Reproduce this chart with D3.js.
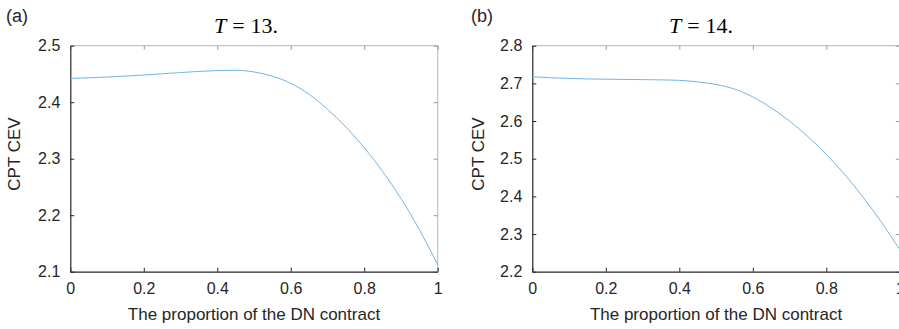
<!DOCTYPE html>
<html>
<head>
<meta charset="utf-8">
<script src="https://cdn.jsdelivr.net/npm/d3@7"></script>
<style>
  html, body { margin: 0; padding: 0; background: #fff; }
  svg { display: block; }
  text { font-family: "Liberation Sans", Arial, Helvetica, sans-serif; fill: #262626; }
</style>
</head>
<body>
<svg id="chart" width="899" height="329"></svg>
<script>
// ---- data ----
const proportion = [0, 0.1, 0.2, 0.3, 0.35, 0.4, 0.45, 0.5, 0.55, 0.6, 0.65, 0.7, 0.75, 0.8, 0.85, 0.9, 0.95, 1.0];
const cevT13 = [2.442, 2.4445, 2.448, 2.4525, 2.4545, 2.456, 2.4565, 2.4535, 2.446, 2.4335, 2.414, 2.3875, 2.356, 2.3195, 2.2775, 2.2295, 2.1745, 2.1125];
const cevT14 = [2.7175, 2.713, 2.711, 2.7100, 2.7092, 2.708, 2.704, 2.697, 2.685, 2.664, 2.635, 2.600, 2.5585, 2.5115, 2.458, 2.398, 2.3315, 2.2585];
const xTicks = [0, 0.2, 0.4, 0.6, 0.8, 1];
const yTicksA = [2.1, 2.2, 2.3, 2.4, 2.5];
const yTicksB = [2.2, 2.3, 2.4, 2.5, 2.6, 2.7, 2.8];
const panelLabels = ["(a)", "(b)"];
const titleNums = ["13.", "14."];
const xTitle = "The proportion of the DN contract";
const yTitle = "CPT CEV";

const svg = d3.select("#chart");

const panels = [
  { left: 70.3, right: 437.7, yDomain: [2.1, 2.5], yTicks: yTicksA, values: cevT13,
    label: panelLabels[0], labelX: 6, title: titleNums[0], titleX: 246, yTitleX: 14 },
  { left: 532.3, right: 899.8, yDomain: [2.2, 2.8], yTicks: yTicksB, values: cevT14,
    label: panelLabels[1], labelX: 471, title: titleNums[1], titleX: 701, yTitleX: 478 }
];
const plotTop = 45.7, plotBottom = 271.7;

panels.forEach(p => {
  const x = d3.scaleLinear().domain([0, 1]).range([p.left, p.right]);
  const y = d3.scaleLinear().domain(p.yDomain).range([plotBottom, plotTop]);
  const g = svg.append("g");

  // box (top & right) in light gray
  g.append("line").attr("x1", p.left).attr("x2", p.right).attr("y1", plotTop).attr("y2", plotTop)
    .attr("stroke", "#b5b5b5").attr("stroke-width", 1);
  g.append("line").attr("x1", p.right).attr("x2", p.right).attr("y1", plotTop).attr("y2", plotBottom)
    .attr("stroke", "#b5b5b5").attr("stroke-width", 1);
  // mirrored ticks
  g.append("g").attr("transform", `translate(0,${plotTop})`)
    .call(d3.axisTop(x).tickValues(xTicks).tickSize(-4).tickFormat(""))
    .call(s => s.select(".domain").remove())
    .selectAll("line").attr("stroke", "#9a9a9a");
  g.append("g").attr("transform", `translate(${p.right},0)`)
    .call(d3.axisRight(y).tickValues(p.yTicks).tickSize(-4).tickFormat(""))
    .call(s => s.select(".domain").remove())
    .selectAll("line").attr("stroke", "#9a9a9a");

  // bottom axis
  const ax = g.append("g").attr("transform", `translate(0,${plotBottom})`)
    .call(d3.axisBottom(x).tickValues(xTicks).tickSize(-4).tickSizeOuter(0).tickPadding(11)
      .tickFormat(d => d3.format("~g")(d)));
  ax.select(".domain").attr("stroke", "#262626").attr("stroke-width", 1.2);
  ax.selectAll(".tick line").attr("stroke", "#262626");
  ax.selectAll("text").style("font-size", "16px").attr("fill", "#262626");

  // left axis
  const ay = g.append("g").attr("transform", `translate(${p.left},0)`)
    .call(d3.axisLeft(y).tickValues(p.yTicks).tickSize(-4).tickSizeOuter(0).tickPadding(10)
      .tickFormat(d3.format(".1f")));
  ay.select(".domain").attr("stroke", "#262626").attr("stroke-width", 1.2);
  ay.selectAll(".tick line").attr("stroke", "#262626");
  ay.selectAll("text").style("font-size", "16px").attr("fill", "#262626");

  // line
  const data = proportion.map((d, i) => [d, p.values[i]]);
  g.append("path").datum(data)
    .attr("fill", "none").attr("stroke", "#72b6e6").attr("stroke-width", 1)
    .attr("d", d3.line().x(d => x(d[0])).y(d => y(d[1])).curve(d3.curveMonotoneX));

  // texts
  svg.append("text").attr("x", p.labelX).attr("y", 22).style("font-size", "18px").text(p.label);

  const t = svg.append("text").attr("x", p.titleX).attr("y", 33)
    .attr("text-anchor", "middle")
    .style("font-family", "'Liberation Serif', serif").style("font-size", "22px")
    .style("fill", "#000");
  t.append("tspan").style("font-style", "italic").text("T");
  t.append("tspan").attr("dx", 6).text("=");
  t.append("tspan").attr("dx", 6).text(p.title);

  svg.append("text").attr("x", (p.left + p.right) / 2).attr("y", 320)
    .attr("text-anchor", "middle").style("font-size", "17px").text(xTitle);

  svg.append("text")
    .attr("transform", `translate(${p.yTitleX + 6},154) rotate(-90)`)
    .attr("text-anchor", "middle").style("font-size", "17px").text(yTitle);
});
</script>
</body>
</html>
